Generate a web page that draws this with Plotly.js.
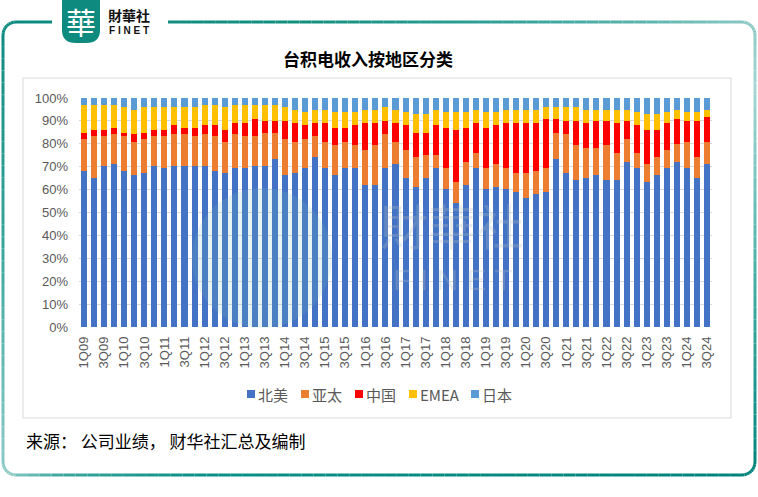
<!DOCTYPE html>
<html><head><meta charset="utf-8">
<script src="https://cdn.plot.ly/plotly-3.0.1.min.js"></script>
<style>html,body{margin:0;padding:0;background:#fff;}#chart{width:758px;height:497px;}</style>
</head><body><div id="chart"></div>
<script>
// ---- data (percent share of revenue by region) ----
const quarters = ["1Q09","2Q09","3Q09","4Q09","1Q10","2Q10","3Q10","4Q10","1Q11","2Q11","3Q11","4Q11",
  "1Q12","2Q12","3Q12","4Q12","1Q13","2Q13","3Q13","4Q13","1Q14","2Q14","3Q14","4Q14",
  "1Q15","2Q15","3Q15","4Q15","1Q16","2Q16","3Q16","4Q16","1Q17","2Q17","3Q17","4Q17",
  "1Q18","2Q18","3Q18","4Q18","1Q19","2Q19","3Q19","4Q19","1Q20","2Q20","3Q20","4Q20",
  "1Q21","2Q21","3Q21","4Q21","1Q22","2Q22","3Q22","4Q22","1Q23","2Q23","3Q23","4Q23",
  "1Q24","2Q24","3Q24"];
const tickLabels = ["1Q09","3Q09","1Q10","3Q10","1Q11","3Q11","1Q12","3Q12","1Q13","3Q13","1Q14","3Q14",
  "1Q15","3Q15","1Q16","3Q16","1Q17","3Q17","1Q18","3Q18","1Q19","3Q19","1Q20","3Q20","1Q21","3Q21",
  "1Q22","3Q22","1Q23","3Q23","1Q24","3Q24"];
const northAmerica = [68.0,64.9,70.1,71.0,68.0,66.4,67.1,70.1,69.3,70.1,70.1,70.1,70.1,68.0,67.1,69.3,
  69.3,70.1,70.1,73.2,66.4,67.1,69.3,74.1,69.3,66.4,69.3,69.3,62.0,62.0,69.3,71.0,64.9,61.2,64.9,69.3,
  60.1,54.2,62.0,69.3,60.1,61.2,60.1,58.8,56.2,58.0,58.8,73.2,67.1,64.1,64.9,66.4,64.1,64.1,71.9,69.3,
  63.2,66.4,69.3,71.9,69.3,64.9,71.0];
const asiaPacific = [13.9,18.3,13.1,13.1,15.2,14.6,14.8,13.1,13.9,14.0,14.0,13.1,14.0,15.2,13.9,14.8,
  13.9,13.1,14.8,11.7,15.5,13.9,12.6,9.1,11.7,12.9,11.7,10.0,15.1,17.3,14.8,10.0,12.2,12.9,10.0,5.6,
  9.2,9.0,9.9,6.9,9.2,9.8,9.2,8.3,10.9,10.0,10.5,11.7,17.0,15.2,13.1,11.6,15.2,12.1,10.0,6.9,
  7.8,7.7,7.8,8.2,11.7,9.2,10.0];
const china = [3.0,3.0,3.0,3.0,1.7,3.1,3.0,3.0,3.0,3.9,3.0,3.9,3.9,4.8,5.2,5.2,
  6.1,7.8,5.2,5.2,8.2,8.3,6.1,6.1,8.3,7.8,6.1,8.7,12.2,10.0,6.0,8.3,10.9,10.8,10.0,13.1,
  17.8,23.0,15.2,13.1,17.8,17.0,20.0,22.2,22.2,21.3,21.7,6.1,6.0,10.8,11.3,12.1,10.8,13.1,8.2,11.8,
  15.2,12.1,12.2,10.9,9.1,16.0,10.9];
const emea = [12.2,10.9,10.9,10.0,11.3,10.8,11.3,10.0,10.0,8.2,9.1,9.1,9.1,9.1,10.0,7.8,
  7.8,6.1,7.0,7.0,6.1,5.6,6.1,5.6,5.6,7.0,7.0,6.1,5.6,5.6,6.1,5.6,6.1,8.3,8.3,6.9,
  7.0,7.9,7.0,5.6,7.0,6.1,5.6,5.6,5.6,5.6,5.2,5.2,6.1,6.1,5.6,4.8,4.8,5.6,4.8,6.1,
  7.0,7.0,4.8,3.9,4.0,4.0,3.0];
const japan = [2.9,2.9,2.9,2.9,3.8,5.1,3.8,3.8,3.8,3.8,3.8,3.8,2.9,2.9,3.8,2.9,
  2.9,2.9,2.9,2.9,3.8,5.1,5.9,5.1,5.1,5.9,5.9,5.9,5.1,5.1,3.8,5.1,5.9,6.8,6.8,5.1,
  5.9,5.9,5.9,5.1,5.9,5.9,5.1,5.1,5.1,5.1,3.8,3.8,3.8,3.8,5.1,5.1,5.1,5.1,5.1,5.9,
  6.8,6.8,5.9,5.1,5.9,5.9,5.1];
const seriesNames = ["北美","亚太","中国","EMEA","日本"];
const seriesColors = ["#4472C4","#ED7D31","#FF0000","#FFC000","#5B9BD5"];

// ---- layout geometry ----
const W=758, H=497, L=79, PW=633, TOP=98, Y0=327, PH=Y0-TOP;
const X = px => (px-L)/PW, Y = py => (Y0-py)/PH;
const CJK = '"Noto Sans CJK SC", "Noto Sans", sans-serif';

const seriesData = [northAmerica, asiaPacific, china, emea, japan];
const traces = seriesData.map((vals,i)=>({
  type:'bar', x:quarters, y:vals, name:seriesNames[i], showlegend:false,
  marker:{color:seriesColors[i], line:{width:0}}, hoverinfo:'x+y+name'
}));

// ---- decorative frame ----
function hex2rgb(h){return [1,3,5].map(k=>parseInt(h.substr(k,2),16));}
function grad(stops,t){
  t=Math.max(0,Math.min(1,t));
  for(let i=0;i<stops.length-1;i++){
    const [t0,c0]=stops[i],[t1,c1]=stops[i+1];
    if(t<=t1){const f=(t-t0)/((t1-t0)||1);const a=hex2rgb(c0),b=hex2rgb(c1);
      return 'rgb('+a.map((v,k)=>Math.round(v+(b[k]-v)*f)).join(',')+')';}
  }
  return stops[stops.length-1][1];
}
const fx0=3,fx1=755,fy0=22,fy1=475,R=13;
const stLeft=[[0,'#0d8a80'],[0.5,'#3aa69e'],[1,'#8fcbc7']];
const stBottom=[[0,'#8fcbc7'],[0.08,'#3aa69e'],[0.25,'#0a9187'],[1,'#00837a']];
const stRight=[[0,'#00837a'],[0.45,'#4aafa8'],[0.85,'#a5d6d3'],[1,'#8dc9c4']];
const stTop=[[0,'#0d8a80'],[0.4,'#12907f'],[0.65,'#2e9f97'],[0.85,'#5bb4ad'],[1,'#8dc9c4']];
function colorAt(x,y){
  if(x<=fx0+R) return grad(stLeft,(y-fy0)/(fy1-fy0));
  if(y>=fy1-R) return grad(stBottom,(x-fx0)/(fx1-fx0));
  if(x>=fx1-R) return grad(stRight,(fy1-y)/(fy1-fy0));
  return grad(stTop,(x-fx0)/(fx1-fx0));
}
const pts=[];
function seg(x0,y0,x1,y1){const n=Math.max(1,Math.round(Math.hypot(x1-x0,y1-y0)/12));
  for(let i=0;i<n;i++)pts.push([x0+(x1-x0)*i/n,y0+(y1-y0)*i/n]);}
function arc(cx,cy,a0,a1){const n=8;for(let i=0;i<n;i++){const a=(a0+(a1-a0)*i/n)*Math.PI/180;
  pts.push([cx+R*Math.cos(a),cy+R*Math.sin(a)]);}}
seg(52,fy0,fx0+R,fy0); arc(fx0+R,fy0+R,-90,-180);
seg(fx0,fy0+R,fx0,fy1-R); arc(fx0+R,fy1-R,180,90);
seg(fx0+R,fy1,fx1-R,fy1); arc(fx1-R,fy1-R,90,0);
seg(fx1,fy1-R,fx1,fy0+R); arc(fx1-R,fy0+R,0,-90);
seg(fx1-R,fy0,168,fy0); pts.push([168,fy0]);
const shapes=[];
for(let i=0;i<pts.length-1;i++){
  const [a,b]=[pts[i],pts[i+1]];
  shapes.push({type:'line',xref:'paper',yref:'paper',x0:X(a[0]),y0:Y(a[1]),x1:X(b[0]),y1:Y(b[1]),
    line:{color:colorAt((a[0]+b[0])/2,(a[1]+b[1])/2),width:3}});
}
// inner chart box
shapes.push({type:'rect',xref:'paper',yref:'paper',x0:X(23),x1:X(731),y0:Y(78),y1:Y(418),
  line:{color:'#d9d9d9',width:1},layer:'below'});
// logo badge
shapes.push({type:'path',xref:'paper',yref:'paper',fillcolor:'#0e8a7f',line:{width:0},
  path:`M${X(62)},${Y(0)} L${X(100)},${Y(0)} L${X(100)},${Y(30)} Q${X(100)},${Y(43)} ${X(86)},${Y(43)} L${X(76)},${Y(43)} Q${X(62)},${Y(43)} ${X(62)},${Y(30)} Z`});
// watermark emblem
shapes.push({type:'circle',xref:'paper',yref:'paper',x0:X(192),x1:X(332),y0:Y(188),y1:Y(328),
  fillcolor:'rgba(120,195,190,0.18)',line:{width:0},layer:'above'});

const annotations=[
  {xref:'paper',yref:'paper',x:X(81),y:Y(21),text:'華',showarrow:false,xanchor:'center',yanchor:'middle',borderpad:0,
   font:{family:'"Noto Sans CJK TC", sans-serif',size:30,color:'#ffffff'}},
  {xref:'paper',yref:'paper',x:X(107),y:Y(15),text:'財華社',showarrow:false,xanchor:'left',yanchor:'middle',borderpad:0,
   font:{family:'"Noto Sans CJK TC", sans-serif',size:14,color:'#111111',weight:'bold'}},
  {xref:'paper',yref:'paper',x:X(108),y:Y(30),text:'F I N E T',showarrow:false,xanchor:'left',yanchor:'middle',borderpad:0,
   font:{family:'"Liberation Sans", Arial, sans-serif',size:10,color:'#111111',weight:'bold'}},
  {xref:'paper',yref:'paper',x:X(452),y:Y(224),text:'財華社',showarrow:false,xanchor:'center',yanchor:'middle',borderpad:0,
   font:{family:'"Noto Sans CJK TC", sans-serif',size:48,color:'rgba(175,190,190,0.3)'}},
  {xref:'paper',yref:'paper',x:X(452),y:Y(279),text:'F I N E T',showarrow:false,xanchor:'center',yanchor:'middle',borderpad:0,
   font:{family:'"Liberation Sans", Arial, sans-serif',size:30,color:'rgba(175,190,190,0.3)'}},
  {xref:'paper',yref:'paper',x:X(24),y:Y(440),text:'来源： 公司业绩， 财华社汇总及编制',showarrow:false,
   xanchor:'left',yanchor:'middle',font:{family:CJK,size:17,color:'#000000'}}
];

// ---- legend (swatch + label) ----
const legendSwatchX = [247,301,355,409,471];
legendSwatchX.forEach((sx,i)=>{
  shapes.push({type:'rect',xref:'paper',yref:'paper',x0:X(sx),x1:X(sx+8),y0:Y(390),y1:Y(398),
    fillcolor:seriesColors[i],line:{width:0}});
  annotations.push({xref:'paper',yref:'paper',x:X(sx+10),y:Y(394),text:seriesNames[i],showarrow:false,
    xanchor:'left',yanchor:'middle',borderpad:0,font:{family:CJK,size:15,color:'#595959'}});
});

const layout={
  width:W,height:H,margin:{l:L,r:W-L-PW,t:TOP,b:H-Y0,pad:0},
  paper_bgcolor:'#ffffff',plot_bgcolor:'rgba(0,0,0,0)',
  barmode:'stack',bargap:0.4,showlegend:false,
  title:{text:'台积电收入按地区分类',xref:'container',yref:'container',x:368/W,y:1-60/H,
    xanchor:'center',yanchor:'middle',font:{family:CJK,size:17,color:'#000000',weight:'bold'}},
  xaxis:{type:'category',range:[-0.5,quarters.length-0.5],tickmode:'array',tickvals:tickLabels,ticktext:tickLabels,
    tickangle:-90,ticks:'',showgrid:false,zeroline:false,showline:false,ticklabelstandoff:6,
    tickfont:{family:'"Liberation Sans", Arial, sans-serif',size:13,color:'#595959'},fixedrange:true},
  yaxis:{range:[0,100],dtick:10,tick0:0,ticksuffix:'%',showgrid:true,gridcolor:'#d9d9d9',gridwidth:1,
    zeroline:false,showline:false,ticks:'',ticklabelstandoff:10,
    tickfont:{family:'"Liberation Sans", Arial, sans-serif',size:13,color:'#595959'},fixedrange:true},
  shapes:shapes,annotations:annotations
};
Plotly.newPlot('chart',traces,layout,{displayModeBar:false,staticPlot:true});
</script></body></html>
